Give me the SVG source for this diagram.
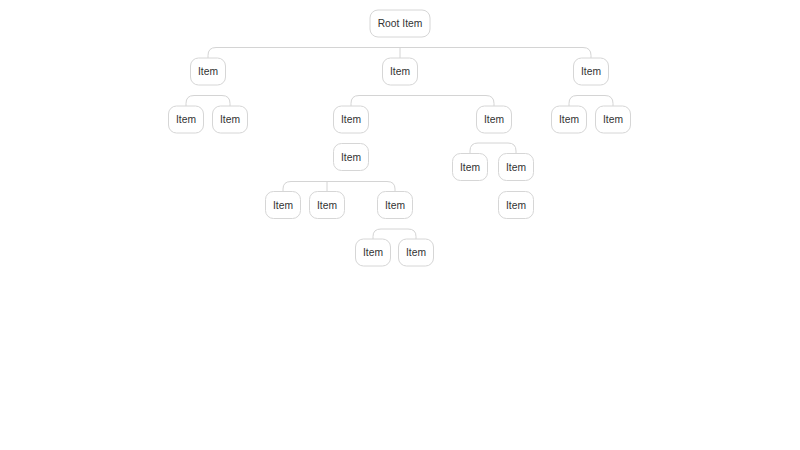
<svg xmlns="http://www.w3.org/2000/svg" width="800" height="450" viewBox="0 0 800 450">
<style>
.n rect{fill:#fff;stroke:#d6d6d6;stroke-width:1}
.n text{font-family:"Liberation Sans",Arial,sans-serif;font-size:10.3px;fill:#333;text-anchor:middle;dominant-baseline:central}
.c path{fill:none;stroke:#d4d4d4;stroke-width:1}
</style>
<rect width="800" height="450" fill="#fff"/>
<g class="c" id="connectors">
<path d="M208 58V55.5Q208 47.5 216 47.5H583Q591 47.5 591 55.5V58"/>
<path d="M400 47.5V58"/>
<path d="M186 106V103.5Q186 95.5 194 95.5H222Q230 95.5 230 103.5V106"/>
<path d="M351 106V103.5Q351 95.5 359 95.5H486Q494 95.5 494 103.5V106"/>
<path d="M569 106V103.5Q569 95.5 577 95.5H605Q613 95.5 613 103.5V106"/>
<path d="M470 153.5V151Q470 143 478 143H508Q516 143 516 151V153.5"/>
<path d="M283 191.5V189Q283 181.5 291 181.5H387Q395 181.5 395 189V191.5"/>
<path d="M327 181.5V191.5"/>
<path d="M373 239V236.5Q373 229 381 229H408Q416 229 416 236.5V239"/>
</g>
<g class="n" id="root"><rect x="370" y="10" width="60" height="27" rx="8"/><text x="400" y="23.5">Root Item</text></g>
<g class="n" id="n1"><rect x="190.5" y="58" width="35" height="27" rx="8"/><text x="208" y="71.5">Item</text></g>
<g class="n" id="n2"><rect x="382.5" y="58" width="35" height="27" rx="8"/><text x="400" y="71.5">Item</text></g>
<g class="n" id="n3"><rect x="573.5" y="58" width="35" height="27" rx="8"/><text x="591" y="71.5">Item</text></g>
<g class="n" id="n1a"><rect x="168.5" y="106" width="35" height="27" rx="8"/><text x="186" y="119.5">Item</text></g>
<g class="n" id="n1b"><rect x="212.5" y="106" width="35" height="27" rx="8"/><text x="230" y="119.5">Item</text></g>
<g class="n" id="n2a"><rect x="333.5" y="106" width="35" height="27" rx="8"/><text x="351" y="119.5">Item</text></g>
<g class="n" id="n2b"><rect x="476.5" y="106" width="35" height="27" rx="8"/><text x="494" y="119.5">Item</text></g>
<g class="n" id="n3a"><rect x="551.5" y="106" width="35" height="27" rx="8"/><text x="569" y="119.5">Item</text></g>
<g class="n" id="n3b"><rect x="595.5" y="106" width="35" height="27" rx="8"/><text x="613" y="119.5">Item</text></g>
<g class="n" id="n2a2"><rect x="333.5" y="143.5" width="35" height="27" rx="8"/><text x="351" y="157">Item</text></g>
<g class="n" id="n2b1"><rect x="452.5" y="153.5" width="35" height="27" rx="8"/><text x="470" y="167">Item</text></g>
<g class="n" id="n2b2"><rect x="498.5" y="153.5" width="35" height="27" rx="8"/><text x="516" y="167">Item</text></g>
<g class="n" id="n2b3"><rect x="498.5" y="191.5" width="35" height="27" rx="8"/><text x="516" y="205">Item</text></g>
<g class="n" id="n2a2a"><rect x="265.5" y="191.5" width="35" height="27" rx="8"/><text x="283" y="205">Item</text></g>
<g class="n" id="n2a2b"><rect x="309.5" y="191.5" width="35" height="27" rx="8"/><text x="327" y="205">Item</text></g>
<g class="n" id="n2a2c"><rect x="377.5" y="191.5" width="35" height="27" rx="8"/><text x="395" y="205">Item</text></g>
<g class="n" id="n2a2c1"><rect x="355.5" y="239" width="35" height="27" rx="8"/><text x="373" y="252.5">Item</text></g>
<g class="n" id="n2a2c2"><rect x="398.5" y="239" width="35" height="27" rx="8"/><text x="416" y="252.5">Item</text></g>
</svg>
